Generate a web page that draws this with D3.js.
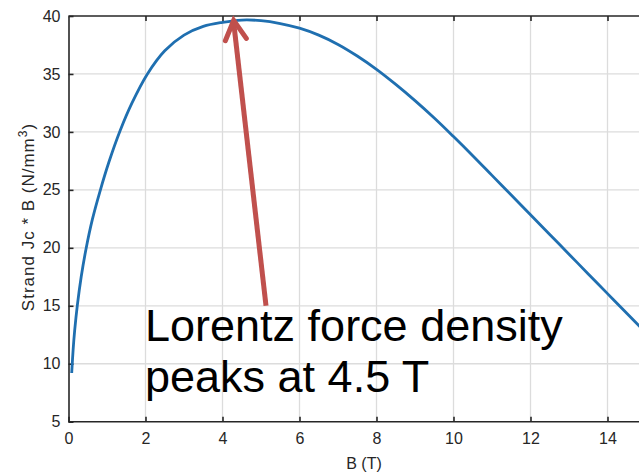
<!DOCTYPE html>
<html><head><meta charset="utf-8">
<script src="https://cdn.jsdelivr.net/npm/d3@7"></script>
<style>body{margin:0;background:#fff}svg{display:block}text{font-family:"Liberation Sans",Arial,sans-serif}</style>
</head><body><svg id="c" width="639" height="472"></svg>
<script>
const bField = [0.083,0.12,0.16,0.23,0.33,0.455,0.62,0.82,1.05,1.34,1.65,2.05,2.5,3.0,3.5,4.0,4.5,5.0,5.5,6.0,6.5,7.0,7.5,8.0,8.5,9.0,9.5,10.0,10.5,11.0,11.5,12.0,12.5,13.0,13.5,14.0,14.5,15.0];
const jcB = [9.2,11.2,12.85,15.05,17.5,19.9,22.45,24.9,27.4,30.1,32.5,35.0,37.0,38.35,39.1,39.45,39.65,39.6,39.35,38.95,38.35,37.55,36.55,35.4,34.1,32.7,31.2,29.6,27.95,26.25,24.55,22.85,21.15,19.45,17.75,16.05,14.35,12.65];
const xTicks = [0,2,4,6,8,10,12,14];
const xGrid = [2,4,6,8,10,12,14,16];
const yTicks = [5,10,15,20,25,30,35,40];
const xLabel = "B (T)";
const yLabel = "Strand Jc * B (N/mm";
const noteLines = ["Lorentz force density","peaks at 4.5 T"];
const arrowFrom = [5.13, 15.0], arrowTo = [4.29, 39.62];

const svg = d3.select("#c");
const x = d3.scaleLinear().domain([0,16]).range([68.5, 684.5]);
const y = d3.scaleLinear().domain([5,40]).range([421.7, 16]);
const axisCol = "#262626";

// grid
svg.append("g").selectAll("line").data(xGrid).join("line")
  .attr("x1", d=>x(d)).attr("x2", d=>x(d)).attr("y1", y(5)).attr("y2", y(40))
  .attr("stroke", "#dcdcdc").attr("stroke-width", 1.3);
svg.append("g").selectAll("line").data(yTicks.slice(1,-1)).join("line")
  .attr("x1", x(0)).attr("x2", x(16)).attr("y1", d=>y(d)).attr("y2", d=>y(d))
  .attr("stroke", "#dcdcdc").attr("stroke-width", 1.3);

// axes
const fmt = d3.format("d");
const gx = svg.append("g").attr("transform", `translate(0,${y(5)})`)
  .call(d3.axisBottom(x).tickValues(xTicks).tickFormat(fmt).tickSizeInner(-5).tickSizeOuter(0).tickPadding(11));
const gxt = svg.append("g").attr("transform", `translate(0,${y(40)})`)
  .call(d3.axisTop(x).tickValues(xGrid).tickFormat("").tickSizeInner(-5).tickSizeOuter(0));
const gy = svg.append("g").attr("transform", `translate(${x(0)},0)`)
  .call(d3.axisLeft(y).tickValues(yTicks).tickFormat(fmt).tickSizeInner(-5).tickSizeOuter(0).tickPadding(8));
gx.select(".domain").attr("d", `M${x(0)},0H${x(16)}`);
gxt.select(".domain").attr("d", `M${x(0)},0H${x(16)}`);
[gx,gxt,gy].forEach(g=>{
  g.select(".domain").attr("stroke", axisCol).attr("stroke-width", 1.6);
  g.selectAll(".tick line").attr("stroke", axisCol).attr("stroke-width", 1.6);
  g.selectAll("text").attr("fill", axisCol).style("font-size","16px").style("font-family","'Liberation Sans',Arial,sans-serif");
});
gx.selectAll(".tick line").attr("y2", -5);

// labels
svg.append("text").attr("x", 364).attr("y", 469).attr("text-anchor","middle")
  .attr("fill", axisCol).style("font-size","16px").text(xLabel);
const yl = svg.append("text").attr("transform", `translate(34,217) rotate(-90)`)
  .attr("text-anchor","middle").attr("fill", axisCol).style("font-size","17px").style("letter-spacing","1px");
yl.append("tspan").text(yLabel);
yl.append("tspan").attr("dy",-7).style("font-size","12px").text("3");
yl.append("tspan").attr("dy",7).text(")");

// curve
const line = d3.line().x((d,i)=>x(bField[i])).y((d,i)=>y(jcB[i])).curve(d3.curveCatmullRom.alpha(0.5));
svg.append("path").datum(jcB).attr("d", line).attr("fill","none")
  .attr("stroke","#1f6fb0").attr("stroke-width",2.8);

// annotation arrow
const ax1 = x(arrowFrom[0]), ay1 = y(arrowFrom[1]), ax2 = x(arrowTo[0]), ay2 = y(arrowTo[1]);
const arrCol = "#c0504d";
svg.append("line").attr("x1",ax1).attr("y1",ay1).attr("x2",ax2).attr("y2",ay2+2)
  .attr("stroke",arrCol).attr("stroke-width",5);
const ang = Math.atan2(ay1-ay2, ax1-ax2);
const hl = 22, ha = 0.5;
const p1 = [ax2+hl*Math.cos(ang-ha), ay2+hl*Math.sin(ang-ha)];
const p2 = [ax2+hl*Math.cos(ang+ha), ay2+hl*Math.sin(ang+ha)];
svg.append("path").attr("d", d3.line()([p1,[ax2,ay2],p2]))
  .attr("fill","none").attr("stroke",arrCol).attr("stroke-width",5)
  .attr("stroke-linecap","round").attr("stroke-linejoin","miter");

// note text
svg.append("g").selectAll("text").data(noteLines).join("text")
  .attr("x", 145).attr("y", (d,i)=>341+i*51)
  .attr("fill","#000").style("font-size","45px").text(d=>d);
</script></body></html>
